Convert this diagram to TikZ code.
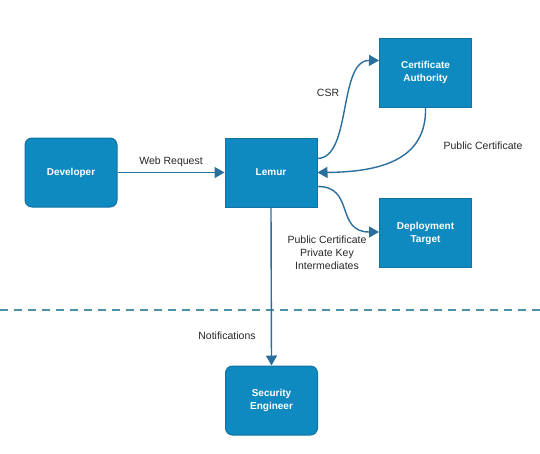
\documentclass[tikz,border=0pt]{standalone}
\usepackage{fontspec}
\setmainfont{Liberation Sans}
\usetikzlibrary{arrows.meta}
\definecolor{boxfill}{HTML}{0E8AC0}
\definecolor{boxdraw}{HTML}{1472A2}
\definecolor{arrowc}{HTML}{2A6E9C}
\definecolor{dashc}{HTML}{4F8FA8}
\begin{document}
\begin{tikzpicture}[x=1pt,y=-1pt,
  box/.style={draw=boxdraw,fill=boxfill,line width=1pt,minimum width=92pt,minimum height=69pt,inner sep=0pt,
    text=white,font=\fontsize{10}{13}\selectfont\bfseries,align=center},
  rbox/.style={box,rounded corners=7pt},
  conn/.style={draw=arrowc,line width=1.4pt,-{Triangle[length=10pt,width=11pt]}},
  lbl/.style={font=\fontsize{10.5}{13}\selectfont,text=black!85,align=center,inner sep=0pt}]
\useasboundingbox (0,0) rectangle (540,453);
\node[rbox] (dev) at (71,172.5) {Developer};
\node[box] (lemur) at (271,172.5) {Lemur};
\node[box] (ca) at (425.5,72.5) {Certificate\\Authority};
\node[box] (dt) at (425.5,233) {Deployment\\Target};
\node[rbox] (se) at (271.5,400.5) {Security\\Engineer};
\coordinate (dl) at (0,310);
\coordinate (dr) at (540,310);
\draw[dashc,line width=1.6pt,dash pattern=on 8pt off 6pt] (dl) -- (dr);
\draw[conn] (dev.east) -- (lemur.west);
\node[lbl] (wr) at (171,162) {Web Request};
\draw[conn] ([yshift=14pt]lemur.east) .. controls (352,158) and (338,60) .. ([yshift=12pt]ca.west);
\node[lbl] (csr) at (328,93) {CSR};
\draw[conn] (ca.south) .. controls (427,160) and (380,172) .. (lemur.east);
\node[lbl] (pc) at (483,146) {Public Certificate};
\draw[conn] ([yshift=-14pt]lemur.east) .. controls (355,186) and (335,232) .. ([yshift=1pt]dt.west);
\node[lbl] (pk) at (327,253) {Public Certificate\\Private Key\\Intermediates};
\draw[conn] (lemur.south) -- (se.north);
\node[lbl] (nt) at (227,336) {Notifications};
\end{tikzpicture}
\end{document}
